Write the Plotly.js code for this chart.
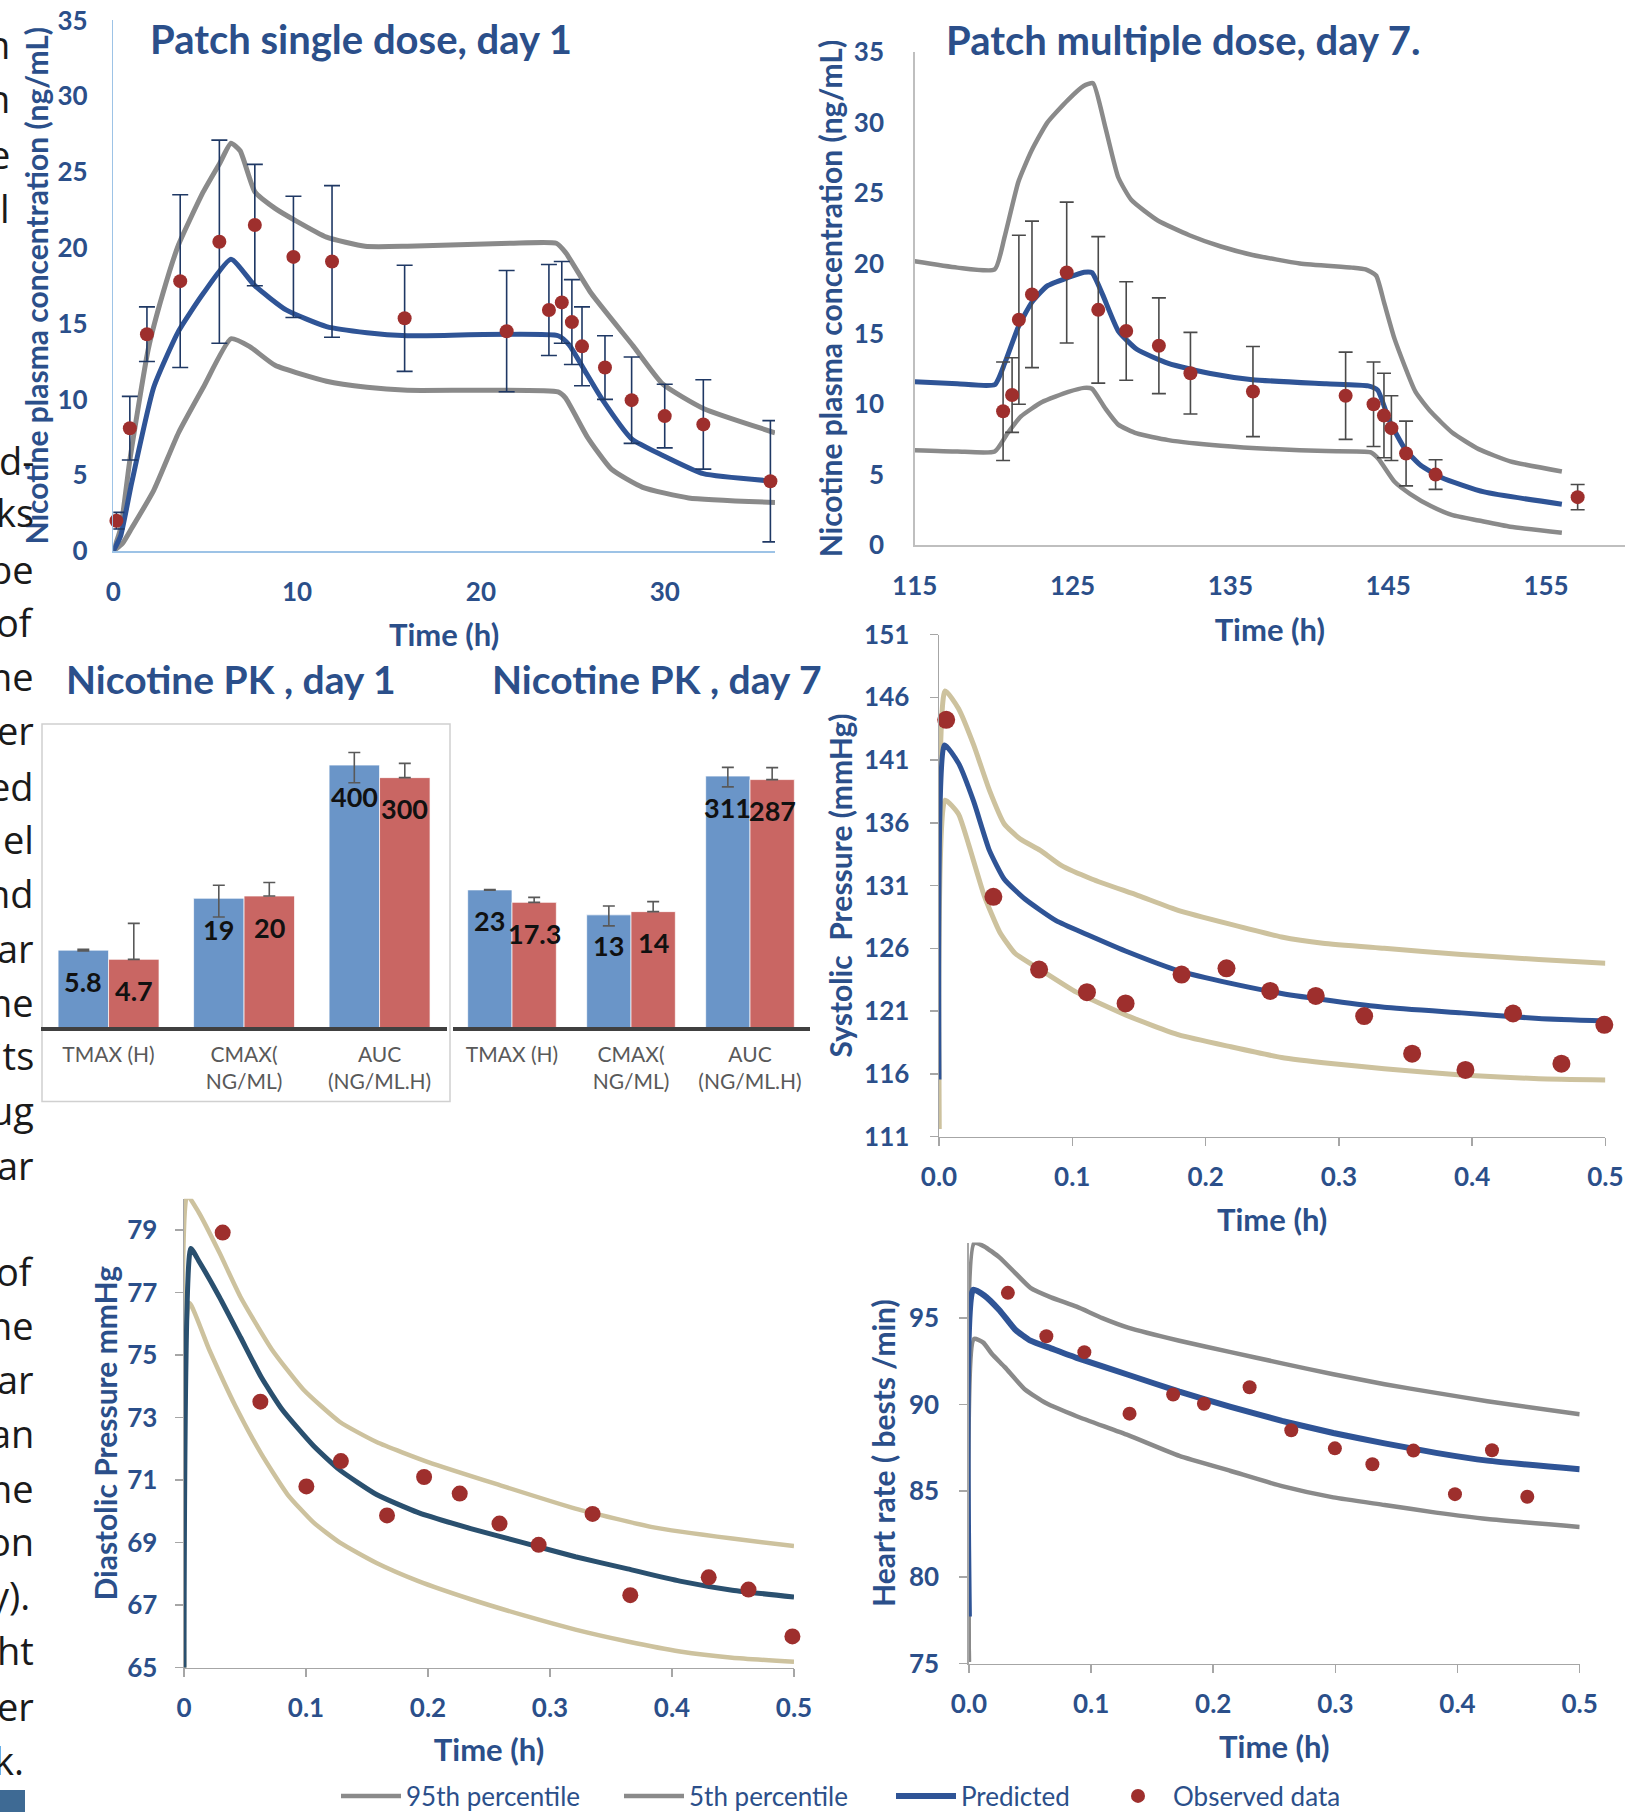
<!DOCTYPE html>
<html><head><meta charset="utf-8">
<script src="https://cdn.plot.ly/plotly-3.0.1.min.js"></script>
<style>html,body{margin:0;padding:0;background:#fff;overflow:hidden;}#chart{width:1625px;height:1812px;}</style>
</head><body><div id="chart"></div>
<script>
// ---------- Panel 1: Patch single dose, day 1 ----------
const sd_obs_t = [0.17, 0.9, 1.83, 3.64, 5.77, 7.7, 9.8, 11.9, 15.85, 21.4, 23.7, 24.4, 24.95, 25.5, 26.75, 28.2, 30.0, 32.1, 35.75];
const sd_obs_c = [2.0, 8.1, 14.3, 17.8, 20.4, 21.5, 19.4, 19.1, 15.35, 14.5, 15.9, 16.4, 15.1, 13.5, 12.1, 9.95, 8.9, 8.35, 4.6];
const sd_obs_sd = [0.55, 2.1, 1.8, 5.7, 6.7, 4.0, 4.0, 5.0, 3.5, 4.0, 3.0, 2.7, 2.8, 2.6, 2.1, 2.85, 2.1, 2.95, 4.0];
const sd_p95_t = [0, 0.4, 0.9, 1.9, 2.7, 3.55, 4.9, 5.8, 6.4, 6.9, 7.7, 8.8, 9.9, 11.6, 13.7, 16, 21.6, 24.1, 24.6, 26, 28.3, 29.9, 32.1, 36];
const sd_p95_c = [0, 1.5, 6.0, 13.3, 17.0, 20.2, 23.7, 25.6, 26.9, 26.4, 23.7, 22.6, 21.8, 20.7, 20.1, 20.1, 20.3, 20.3, 19.7, 17.0, 13.5, 11.0, 9.4, 7.8];
const sd_pred_t = [0, 0.4, 1, 2.2, 3.55, 4.9, 6.4, 7.7, 9.4, 11.6, 13.8, 16, 24.2, 24.8, 25.6, 26.6, 28.2, 29.9, 32.1, 36];
const sd_pred_c = [0, 1.0, 4.5, 10.8, 14.5, 17.0, 19.25, 17.5, 15.9, 14.8, 14.4, 14.2, 14.2, 13.6, 12.0, 10.0, 7.4, 6.3, 5.1, 4.6];
const sd_p5_t = [0, 0.5, 1, 2.2, 3.55, 4.9, 6.4, 7.4, 8.8, 11.6, 13.8, 16, 24.2, 24.6, 25.8, 27.1, 28.8, 31.3, 36];
const sd_p5_c = [0, 0.5, 1.5, 4.0, 7.8, 10.8, 14.0, 13.5, 12.25, 11.2, 10.8, 10.6, 10.5, 10.1, 7.5, 5.4, 4.2, 3.5, 3.2];

// ---------- Panel 2: Patch multiple dose, day 7 ----------
const md_obs_t = [120.6, 121.17, 121.6, 122.43, 124.63, 126.63, 128.4, 130.47, 132.47, 136.43, 142.3, 144.07, 144.73, 145.2, 146.13, 148.0, 157.0];
const md_obs_c = [9.5, 10.65, 16.0, 17.8, 19.35, 16.7, 15.2, 14.15, 12.2, 10.9, 10.6, 10.0, 9.2, 8.3, 6.5, 5.0, 3.4];
const md_obs_sd = [3.5, 2.65, 6.0, 5.2, 5.0, 5.2, 3.5, 3.4, 2.9, 3.2, 3.1, 3.0, 3.0, 2.3, 2.3, 1.05, 0.9];
const md_p95_t = [115, 117.7, 120.07, 120.7, 121.57, 122.4, 123.4, 124.7, 125.7, 126.3, 127.07, 127.9, 128.73, 130.4, 132.4, 134.4, 136.4, 139.4, 142.7, 143.57, 144.23, 144.73, 145.4, 146.73, 147.73, 149.07, 150.73, 152.73, 156];
const md_p95_c = [20.15, 19.7, 19.57, 21.9, 25.8, 28.0, 30.0, 31.6, 32.6, 32.8, 29.7, 26.1, 24.5, 23.05, 22.0, 21.2, 20.6, 20.0, 19.7, 19.57, 19.14, 17.25, 14.64, 10.87, 9.42, 7.97, 6.81, 5.94, 5.22];
const md_pred_t = [115, 117.7, 120.07, 120.7, 121.57, 122.43, 123.4, 124.73, 125.73, 126.23, 126.9, 127.9, 129.07, 131.07, 133.73, 136.4, 141.07, 143.73, 144.33, 145.07, 146.07, 147.07, 148.4, 151.07, 156];
const md_pred_c = [11.6, 11.45, 11.39, 12.9, 15.5, 17.25, 18.4, 19.0, 19.37, 19.34, 17.8, 15.2, 13.9, 12.9, 12.18, 11.74, 11.45, 11.3, 11.0, 8.84, 6.81, 5.65, 4.78, 3.77, 2.9];
const md_p5_t = [115, 117.7, 120.07, 120.9, 121.73, 123.07, 124.73, 125.73, 126.23, 127.07, 127.9, 129.07, 131.07, 134.4, 137.73, 141.07, 143.9, 144.4, 145.4, 146.4, 147.73, 149.07, 150.73, 152.73, 156];
const md_p5_c = [6.73, 6.64, 6.64, 7.97, 9.13, 10.15, 10.87, 11.16, 11.1, 9.71, 8.55, 7.92, 7.45, 7.05, 6.81, 6.67, 6.58, 6.09, 4.49, 3.62, 2.75, 2.12, 1.74, 1.3, 0.87];

// ---------- Bar panels: Nicotine PK ----------
const pk_categories = ['TMAX (H)', 'CMAX(<br>NG/ML)', 'AUC<br>(NG/ML.H)'];
const pk_day1_pred = [5.8, 19, 400];
const pk_day1_pred_err = [0.1, 6.6, 133];
const pk_day1_obs = [4.7, 20, 300];
const pk_day1_obs_err = [6.0, 7.3, 116];
const pk_day7_pred = [23, 13, 311];
const pk_day7_pred_err = [0.2, 2.9, 68];
const pk_day7_obs = [17.3, 14, 287];
const pk_day7_obs_err = [2.1, 3.6, 90];

// ---------- Systolic pressure ----------
const sys_obs_t = [0.0054, 0.0408, 0.0751, 0.111, 0.140, 0.182, 0.2157, 0.2485, 0.2827, 0.319, 0.355, 0.395, 0.4307, 0.467, 0.4992];
const sys_obs_v = [144.2, 130.1, 124.3, 122.5, 121.6, 123.9, 124.4, 122.6, 122.2, 120.6, 117.6, 116.3, 120.8, 116.8, 119.9];
const sys_p95_t = [0, 0.0046, 0.0146, 0.026, 0.0378, 0.049, 0.061, 0.076, 0.0917, 0.115, 0.1495, 0.180, 0.219, 0.257, 0.288, 0.334, 0.392, 0.45, 0.5];
const sys_p95_v = [111.6, 146.5, 145.1, 142.2, 138.6, 135.9, 134.7, 133.8, 132.6, 131.5, 130.2, 129.0, 127.9, 126.9, 126.4, 126.0, 125.5, 125.1, 124.8];
const sys_pred_t = [0, 0.0042, 0.0146, 0.026, 0.0378, 0.049, 0.0647, 0.0878, 0.111, 0.1418, 0.180, 0.219, 0.257, 0.296, 0.334, 0.392, 0.45, 0.5];
const sys_pred_v = [115.55, 142.2, 140.75, 137.7, 133.8, 131.5, 129.9, 128.2, 127.1, 125.7, 124.2, 123.2, 122.4, 121.8, 121.3, 120.85, 120.4, 120.2];
const sys_p5_t = [0, 0.0046, 0.0146, 0.0223, 0.0339, 0.0455, 0.057, 0.076, 0.103, 0.1418, 0.180, 0.219, 0.257, 0.296, 0.334, 0.392, 0.45, 0.5];
const sys_p5_v = [111.6, 137.8, 136.7, 134.25, 130.2, 127.3, 125.6, 124.3, 122.5, 120.6, 119.1, 118.15, 117.3, 116.8, 116.4, 115.9, 115.6, 115.5];

// ---------- Diastolic pressure ----------
const dia_obs_t = [0.0317, 0.0626, 0.1003, 0.1286, 0.1664, 0.1968, 0.226, 0.2586, 0.2907, 0.3349, 0.3658, 0.4301, 0.4627, 0.4987];
const dia_obs_v = [78.92, 73.51, 70.8, 71.61, 69.87, 71.1, 70.57, 69.61, 68.93, 69.92, 67.32, 67.89, 67.5, 66.0];
const dia_p95_t = [0, 0.0026, 0.012, 0.029, 0.0463, 0.072, 0.0978, 0.1278, 0.1578, 0.2007, 0.2564, 0.3208, 0.385, 0.4494, 0.5];
const dia_p95_v = [65, 80.1, 79.57, 78.28, 76.86, 75.18, 73.9, 72.86, 72.22, 71.57, 70.87, 70.09, 69.49, 69.13, 68.89];
const dia_pred_t = [0, 0.0056, 0.012, 0.029, 0.0463, 0.0635, 0.0806, 0.1063, 0.1278, 0.1578, 0.1921, 0.235, 0.2779, 0.3208, 0.3636, 0.4065, 0.4494, 0.5];
const dia_pred_v = [65, 78.41, 78.02, 76.86, 75.57, 74.28, 73.25, 72.09, 71.32, 70.54, 69.96, 69.45, 69.0, 68.55, 68.16, 67.77, 67.48, 67.26];
const dia_p5_t = [0, 0.0043, 0.0206, 0.042, 0.0635, 0.0849, 0.1063, 0.1278, 0.1578, 0.1921, 0.235, 0.2779, 0.3208, 0.3636, 0.4065, 0.4494, 0.5];
const dia_p5_v = [65, 76.67, 75.18, 73.38, 71.83, 70.54, 69.64, 69.0, 68.35, 67.77, 67.19, 66.68, 66.22, 65.84, 65.52, 65.32, 65.19];

// ---------- Heart rate ----------
const hr_obs_t = [0.0319, 0.0634, 0.0945, 0.1315, 0.1672, 0.1924, 0.2298, 0.2639, 0.2996, 0.3303, 0.3639, 0.3979, 0.4282, 0.4571];
const hr_obs_v = [96.46, 93.95, 93.03, 89.47, 90.58, 90.04, 91.0, 88.51, 87.46, 86.54, 87.33, 84.81, 87.35, 84.66];
const hr_p95_t = [0, 0.0042, 0.0126, 0.0252, 0.0378, 0.0504, 0.0672, 0.0882, 0.1092, 0.1303, 0.1723, 0.2143, 0.2563, 0.2983, 0.3403, 0.3824, 0.4244, 0.5];
const hr_p95_v = [75.1, 99.33, 99.15, 98.5, 97.62, 96.75, 96.2, 95.66, 95.0, 94.45, 93.69, 93.03, 92.38, 91.75, 91.17, 90.67, 90.19, 89.43];
const hr_pred_t = [0, 0.0034, 0.0126, 0.0252, 0.0378, 0.0504, 0.0672, 0.0882, 0.1303, 0.1723, 0.2143, 0.2563, 0.2983, 0.3403, 0.3824, 0.4244, 0.5];
const hr_pred_v = [77.73, 96.64, 96.31, 95.44, 94.34, 93.69, 93.25, 92.7, 91.72, 90.74, 89.86, 89.05, 88.35, 87.75, 87.2, 86.75, 86.25];
const hr_p5_t = [0, 0.0042, 0.0118, 0.0189, 0.0294, 0.0462, 0.063, 0.0882, 0.1303, 0.1723, 0.2143, 0.2563, 0.2983, 0.3403, 0.3824, 0.4244, 0.5];
const hr_p5_v = [75.1, 93.8, 93.58, 92.92, 92.16, 90.85, 90.08, 89.32, 88.22, 87.02, 86.15, 85.27, 84.62, 84.18, 83.74, 83.37, 82.91];

// ---------- Tick labels, legend names and stray page text ----------
const pd_time_ticks = [0, 0.1, 0.2, 0.3, 0.4, 0.5];
const legend_names = ['95th percentile', '5th percentile', 'Predicted', 'Observed data'];
const page_fragments = ['n', 'n', 'e', 'l', 'd-', 'ks', 'be', 'of', 'ne', 'er', 'ed', 'el', 'nd', 'ar', 'ne', 'its', 'ug', 'ar', 'of', 'ne', 'ar', 'an', 'ne', 'on', 'y).', 'ht', 'er', 'k.'];

// ================= rendering =================
const W = 1625, H = 1812;
const px = v => v / W;
const py = v => 1 - v / H;

const FONT = 'Lato, "Open Sans", "Noto Sans", sans-serif';
const TXT_BLUE = '#2B4F8A';
const GRAY = '#8A8A8A';
const PRED = '#2F5496';
const PRED_DIA = '#2A506F';
const TAN = '#CDC29E';
const RED = '#9E2F2D';

const tickFont = {family: FONT, size: 26, color: TXT_BLUE, weight: 700};
const titleFont = {family: FONT, size: 31, color: TXT_BLUE, weight: 700};
const yTitleFont = s => ({family: FONT, size: s, color: TXT_BLUE, weight: 700});

function line(x, y, xa, ya, color, width, name, legendId) {
  const t = {type: 'scatter', mode: 'lines', x: x, y: y, xaxis: xa, yaxis: ya,
    line: {color: color, width: width, shape: 'spline', smoothing: 0.5},
    name: name || '', showlegend: !!legendId, hoverinfo: 'skip'};
  if (legendId) t.legend = legendId;
  return t;
}
function dots(x, y, xa, ya, size, err, errColor, errW, name, legendId) {
  const t = {type: 'scatter', mode: 'markers', x: x, y: y, xaxis: xa, yaxis: ya,
    marker: {color: RED, size: size}, cliponaxis: false,
    name: name || '', showlegend: !!legendId};
  if (legendId) t.legend = legendId;
  if (err) t.error_y = {type: 'data', array: err, visible: true, color: errColor, thickness: 1.6, width: errW};
  return t;
}

const traces = [];
traces.push(line(sd_p95_t, sd_p95_c, 'x', 'y', GRAY, 5));
traces.push(line(sd_p5_t, sd_p5_c, 'x', 'y', GRAY, 5));
traces.push(line(sd_pred_t, sd_pred_c, 'x', 'y', PRED, 5));
traces.push(dots(sd_obs_t, sd_obs_c, 'x', 'y', 14, sd_obs_sd, '#1F3864', 8));
traces.push(line(md_p95_t, md_p95_c, 'x2', 'y2', GRAY, 4.5));
traces.push(line(md_p5_t, md_p5_c, 'x2', 'y2', GRAY, 4.5));
traces.push(line(md_pred_t, md_pred_c, 'x2', 'y2', PRED, 5));
traces.push(dots(md_obs_t, md_obs_c, 'x2', 'y2', 14, md_obs_sd, '#4A4A4A', 7));

const BLUE_BAR = '#6A95C8', RED_BAR = '#C96663';
function bar(vals, errs, symmetric, xa, ya, color) {
  return {type: 'bar', x: pk_categories, y: vals, xaxis: xa, yaxis: ya,
    marker: {color: color, line: {color: 'rgba(255,255,255,0.7)', width: 1}},
    error_y: {type: 'data', array: errs, arrayminus: symmetric ? errs : errs.map(() => 0),
      visible: true, color: '#595959', thickness: 1.6, width: 6},
    showlegend: false, hoverinfo: 'skip'};
}
traces.push(bar(pk_day1_pred, pk_day1_pred_err, true, 'x3', 'y3', BLUE_BAR));
traces.push(bar(pk_day1_obs, pk_day1_obs_err, false, 'x3', 'y3', RED_BAR));
traces.push(bar(pk_day7_pred, pk_day7_pred_err, true, 'x4', 'y4', BLUE_BAR));
traces.push(bar(pk_day7_obs, pk_day7_obs_err, false, 'x4', 'y4', RED_BAR));

traces.push(line(sys_p95_t, sys_p95_v, 'x5', 'y5', TAN, 5));
traces.push(line(sys_p5_t, sys_p5_v, 'x5', 'y5', TAN, 5));
traces.push(line(sys_pred_t, sys_pred_v, 'x5', 'y5', PRED, 5));
traces.push(dots(sys_obs_t, sys_obs_v, 'x5', 'y5', 18));

traces.push(line(dia_p95_t, dia_p95_v, 'x6', 'y6', TAN, 4.5));
traces.push(line(dia_p5_t, dia_p5_v, 'x6', 'y6', TAN, 4.5));
traces.push(line(dia_pred_t, dia_pred_v, 'x6', 'y6', PRED_DIA, 5));
traces.push(dots(dia_obs_t, dia_obs_v, 'x6', 'y6', 16));

// heart-rate traces also supply the four legend entries (one legend box each)
traces.push(line(hr_p95_t, hr_p95_v, 'x7', 'y7', GRAY, 4.5, legend_names[0], 'legend'));
traces.push(line(hr_p5_t, hr_p5_v, 'x7', 'y7', GRAY, 4.5, legend_names[1], 'legend2'));
traces.push(line(hr_pred_t, hr_pred_v, 'x7', 'y7', PRED, 6, legend_names[2], 'legend3'));
traces.push(dots(hr_obs_t, hr_obs_v, 'x7', 'y7', 14, null, null, null, legend_names[3], 'legend4'));

function xAx(domain, anchor, range, opts) {
  return Object.assign({domain: domain, anchor: anchor, range: range, showgrid: false, zeroline: false,
    showline: true, linecolor: '#A6A6A6', linewidth: 1.5, ticks: '', tickfont: tickFont,
    ticklabelstandoff: 17, fixedrange: true}, opts);
}
function yAx(domain, anchor, range, opts) {
  return Object.assign({domain: domain, anchor: anchor, range: range, showgrid: false, zeroline: false,
    showline: true, linecolor: '#A6A6A6', linewidth: 1.5, ticks: '', tickfont: tickFont,
    ticklabelstandoff: 24, fixedrange: true}, opts);
}
const pdTicks = {tickvals: pd_time_ticks, ticks: 'outside', ticklen: 8, tickcolor: '#A6A6A6', tickwidth: 1.5, ticklabelstandoff: 9};
const pdYTicks = {ticks: 'outside', ticklen: 8, tickcolor: '#A6A6A6', tickwidth: 1.5, ticklabelstandoff: 15};

const BAR_GAP = 0.255;
const barDom1 = [px(40.8), px(447.3)], barDom7 = [px(452.5), px(809.5)];
const barYDom = [py(1027), py(724)];
const catFont = {family: FONT, size: 21, color: '#595959'};

function legendBox(leftPx) {
  return {orientation: 'h', x: px(leftPx), y: py(1796), xanchor: 'left', yanchor: 'middle',
    font: {family: FONT, size: 26, color: TXT_BLUE}, itemwidth: 60,
    bgcolor: 'rgba(0,0,0,0)', borderwidth: 0};
}

const layout = {
  width: W, height: H, margin: {l: 0, r: 0, t: 0, b: 0, autoexpand: false},
  paper_bgcolor: '#ffffff', plot_bgcolor: 'rgba(0,0,0,0)',
  showlegend: true, barmode: 'group', bargap: BAR_GAP, bargroupgap: 0,
  font: {family: FONT, color: TXT_BLUE},
  legend: legendBox(336),
  legend2: legendBox(619),
  legend3: legendBox(891),
  legend4: legendBox(1103),
  xaxis: xAx([px(113.3), px(775)], 'y', [0, 36], {linecolor: '#9DC3E6', tickvals: [0, 10, 20, 30],
    title: {text: 'Time (h)', font: titleFont, standoff: 18}}),
  yaxis: yAx([py(551), py(20.4)], 'x', [0, 35], {linecolor: '#9DC3E6', tick0: 0, dtick: 5, ticklabelstandoff: 19,
    title: {text: 'Nicotine plasma concentration (ng/mL)', font: yTitleFont(30), standoff: 0}}),
  xaxis2: xAx([px(914.7), 1], 'y2', [115, 160], {linecolor: '#BFBFBF', tickvals: [115, 125, 135, 145, 155],
    title: {text: 'Time (h)', font: titleFont, standoff: 19}}),
  yaxis2: yAx([py(545), py(52.2)], 'x2', [0, 35], {linecolor: '#BFBFBF', tick0: 0, dtick: 5,
    title: {text: 'Nicotine plasma concentration (ng/mL)', font: yTitleFont(30), standoff: 2}}),
  xaxis3: {domain: barDom1, anchor: 'y3', type: 'category', showgrid: false, zeroline: false, showline: true,
    linecolor: '#404040', linewidth: 3.5, ticks: '', tickfont: catFont, ticklabelstandoff: 6, fixedrange: true},
  yaxis3: {domain: barYDom, anchor: 'x3', type: 'log', range: [0, 3.01], visible: false, fixedrange: true},
  xaxis4: {domain: barDom7, anchor: 'y4', type: 'category', showgrid: false, zeroline: false, showline: true,
    linecolor: '#404040', linewidth: 3.5, ticks: '', tickfont: catFont, ticklabelstandoff: 6, fixedrange: true},
  yaxis4: {domain: barYDom, anchor: 'x4', type: 'log', range: [0, 3.01], visible: false, fixedrange: true},
  xaxis5: xAx([px(939), px(1605.4)], 'y5', [0, 0.5], Object.assign({tickformat: '.1f',
    title: {text: 'Time (h)', font: titleFont, standoff: 18}}, pdTicks)),
  yaxis5: yAx([py(1136.5), py(634.5)], 'x5', [111, 151], Object.assign({tick0: 111, dtick: 5,
    title: {text: 'Systolic  Pressure (mmHg)', font: yTitleFont(30), standoff: 2}}, pdYTicks)),
  xaxis6: xAx([px(184), px(794)], 'y6', [0, 0.5], Object.assign({
    title: {text: 'Time (h)', font: titleFont, standoff: 17}}, pdTicks)),
  yaxis6: yAx([py(1667.7), py(1198.8)], 'x6', [65, 80], Object.assign({tick0: 65, dtick: 2,
    title: {text: 'Diastolic Pressure mmHg', font: yTitleFont(30), standoff: 0}}, pdYTicks, {ticklabelstandoff: 12})),
  xaxis7: xAx([px(968.9), px(1579.7)], 'y7', [0, 0.5], Object.assign({tickformat: '.1f',
    title: {text: 'Time (h)', font: titleFont, standoff: 18}}, pdTicks)),
  yaxis7: yAx([py(1663.6), py(1242.6)], 'x7', [75, 99.37], Object.assign({tick0: 75, dtick: 5,
    title: {text: 'Heart rate ( bests /min)', font: yTitleFont(30), standoff: 4}}, pdYTicks)),
  annotations: [],
  shapes: [
    {type: 'rect', xref: 'paper', yref: 'paper', x0: px(42), x1: px(450), y0: py(1101.5), y1: py(724),
      line: {color: '#D0D0D0', width: 1.5}, fillcolor: 'rgba(0,0,0,0)', layer: 'below'},
    {type: 'rect', xref: 'paper', yref: 'paper', x0: 0, x1: px(25), y0: 0, y1: py(1790),
      line: {width: 0}, fillcolor: '#3E6A94'}
  ]
};

const bigTitle = {family: FONT, size: 40, color: TXT_BLUE, weight: 700};
const pkTitle = {family: FONT, size: 39, color: TXT_BLUE, weight: 700};
function paperText(text, x, y, font, xanchor) {
  return {text: text, xref: 'paper', yref: 'paper', x: px(x), y: py(y), xanchor: xanchor || 'left',
    yanchor: 'middle', showarrow: false, font: font};
}
layout.annotations.push(paperText('Patch single dose, day 1', 148, 39, bigTitle));
layout.annotations.push(paperText('Patch multiple dose, day 7.', 944, 40, bigTitle));
layout.annotations.push(paperText('Nicotine PK , day 1', 64, 679, pkTitle));
layout.annotations.push(paperText('Nicotine PK , day 7', 490, 679, pkTitle));

function barLabels(dom, preds, obs, xa, ya) {
  const spacing = (dom[1] - dom[0]) * W / pk_categories.length;
  const half = spacing * (1 - BAR_GAP) / 4;
  const f = {family: FONT, size: 27, color: '#111111', weight: 700};
  pk_categories.forEach((c, i) => {
    layout.annotations.push({text: String(preds[i]), x: c, y: Math.log10(preds[i]), xref: xa, yref: ya,
      xshift: -half, yshift: -31, showarrow: false, font: f, xanchor: 'center', yanchor: 'middle'});
    layout.annotations.push({text: String(obs[i]), x: c, y: Math.log10(obs[i]), xref: xa, yref: ya,
      xshift: half, yshift: -31, showarrow: false, font: f, xanchor: 'center', yanchor: 'middle'});
  });
}
barLabels(barDom1, pk_day1_pred, pk_day1_obs, 'x3', 'y3');
barLabels(barDom7, pk_day7_pred, pk_day7_obs, 'x4', 'y4');

const fragY = [44, 98, 154, 208, 460, 512, 569, 622, 676, 730, 786, 839, 893, 948, 1002, 1055, 1110, 1165, 1271, 1325, 1379, 1433, 1488, 1541, 1595, 1650, 1706, 1760];
const fragFont = {family: '"Open Sans", "Noto Sans", sans-serif', size: 38, color: '#1a1a1a'};
page_fragments.forEach((t, i) => {
  let right = 36;
  if (i < 4) right = 12;
  if (t === 'k.') right = 26;
  if (t === 'y).') right = 32;
  layout.annotations.push(paperText(t, right, fragY[i], fragFont, 'right'));
});

Plotly.newPlot('chart', traces, layout, {displayModeBar: false, staticPlot: true});
</script></body></html>
